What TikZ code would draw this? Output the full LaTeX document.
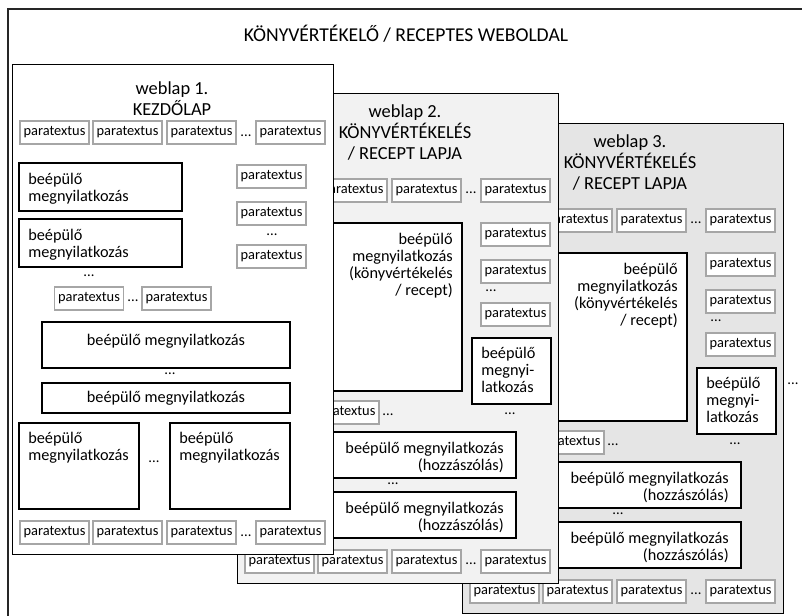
\documentclass[tikz,border=0pt]{standalone}
\usepackage{fontspec}
\setmainfont{Carlito}
\usepackage{tikz}
\newlength{\pxu}
\setlength{\pxu}{0.75pt}
\tikzstyle{para} = [draw=gray!70, line width=1.4pt, fill=white, minimum width=69\pxu, minimum height=23\pxu, inner sep=0pt, font=\fontsize{10.8}{12}\selectfont]
\tikzstyle{ubox} = [draw=black, line width=1.5pt, fill=white, inner sep=0pt]
\tikzstyle{utext} = [inner sep=0pt, font=\fontsize{12.2}{12.75}\selectfont]
\tikzstyle{ellip} = [inner sep=0pt, font=\fontsize{11}{12}\selectfont]
\tikzstyle{pagebox} = [draw=black, line width=1.1pt, minimum width=321\pxu, minimum height=490\pxu, anchor=north west, inner sep=0pt]
\tikzstyle{pagetitle} = [inner sep=0pt, align=center, font=\fontsize{13.8}{16}\selectfont]

% one book review / recipe page (#1 name, #2 fill, #3 number)
\newcommand{\reviewpage}[3]{%
  \node[pagebox, fill=#2] (#1) at (237,93) {};
  \node[pagetitle, anchor=north] (#1title) at (405,104) {weblap #3.\\KÖNYVÉRTÉKELÉS\\/ RECEPT LAPJA};
  % top row
  \node[para] (#1t1) at (352.5,190.5) {paratextus};
  \node[para] (#1t2) at (426.5,190.5) {paratextus};
  \node[ellip] (#1td) at (471,193) {...};
  \node[para] (#1t3) at (515.5,190.5) {paratextus};
  % main text
  \node[ubox, minimum width=162\pxu, minimum height=168\pxu] (#1main) at (381,307) {};
  \node[utext, align=right, anchor=north east] (#1maintext) at (453,233) {beépülő\\megnyilatkozás\\(könyvértékelés\\/ recept)};
  % right column
  \node[para] (#1r1) at (515.5,234.5) {paratextus};
  \node[para] (#1r2) at (515.5,271.5) {paratextus};
  \node[ellip] (#1rd) at (491,291) {...};
  \node[para] (#1r3) at (515.5,314.5) {paratextus};
  \node[ubox, minimum width=79\pxu, minimum height=66\pxu] (#1side) at (511.5,371) {};
  \node[utext, align=left, anchor=north west] (#1sidetext) at (481,347) {beépülő\\megnyi-\\latkozás};
  \node[ellip] (#1sided) at (510,414) {...};
  % comments
  \node[para] (#1m1) at (344.5,412.5) {paratextus};
  \node[ellip] (#1md) at (388,415) {...};
  \node[ubox, minimum width=216\pxu, minimum height=46\pxu] (#1c1) at (408,455) {};
  \node[utext, align=right, anchor=east] (#1c1text) at (504,457) {beépülő megnyilatkozás\\(hozzászólás)};
  \node[ellip] (#1cd) at (393,484) {...};
  \node[ubox, minimum width=216\pxu, minimum height=46\pxu] (#1c2) at (408,515) {};
  \node[utext, align=right, anchor=east] (#1c2text) at (504,517) {beépülő megnyilatkozás\\(hozzászólás)};
  % bottom row
  \node[para] (#1b1) at (279.5,561.5) {paratextus};
  \node[para] (#1b2) at (352.5,561.5) {paratextus};
  \node[para] (#1b3) at (426.5,561.5) {paratextus};
  \node[ellip] (#1bd) at (471,564) {...};
  \node[para] (#1b4) at (515.5,561.5) {paratextus};
}

\begin{document}
\begin{tikzpicture}[x=0.75pt, y=-0.75pt]
  \useasboundingbox (0,0) rectangle (802,615);
  % site frame
  \draw[black!85, line width=1.8pt] (8,9) rectangle (830,640);
  \node[inner sep=0pt, anchor=base, font=\fontsize{14.7}{17}\selectfont] (site) at (406,41) {KÖNYVÉRTÉKELŐ / RECEPTES WEBOLDAL};

  % pages 3 and 2
  \begin{scope}[shift={(225,30)}]
    \reviewpage{pc}{black!10}{3}
  \end{scope}
  \node[ellip] (pcmore) at (793,384) {...};
  \reviewpage{pb}{black!5}{2}

  % page 1
  \node[pagebox, fill=white] (pa) at (12,64) {};
  \node[pagetitle, anchor=north] (patitle) at (172,81) {weblap 1.\\KEZDŐLAP};
  \node[para] (pat1) at (54.5,132.5) {paratextus};
  \node[para] (pat2) at (127.5,132.5) {paratextus};
  \node[para] (pat3) at (201.5,132.5) {paratextus};
  \node[ellip] (patd) at (246,135.5) {...};
  \node[para] (pat4) at (290.5,132.5) {paratextus};

  \node[ubox, minimum width=163\pxu, minimum height=48\pxu] (paa) at (100.5,187) {};
  \node[utext, align=left, anchor=north west] (paatext) at (28,173) {beépülő\\megnyilatkozás};
  \node[ubox, minimum width=163\pxu, minimum height=48\pxu] (pab) at (100.5,243) {};
  \node[utext, align=left, anchor=north west] (pabtext) at (28,229) {beépülő\\megnyilatkozás};
  \node[ellip] (pabd) at (89,276) {...};

  \node[para] (par1) at (271.5,176.5) {paratextus};
  \node[para] (par2) at (271.5,213.5) {paratextus};
  \node[ellip] (pard) at (272,235) {...};
  \node[para] (par3) at (271.5,256.5) {paratextus};

  \node[para] (pam1) at (89,298.5) {paratextus};
  \node[ellip] (pamd) at (133,301) {...};
  \node[para] (pam2) at (176.5,298.5) {paratextus};

  \node[ubox, minimum width=248\pxu, minimum height=46\pxu] (pac) at (166,345) {};
  \node[utext] (pactext) at (166,341) {beépülő megnyilatkozás};
  \node[ellip] (pacd) at (170,374) {...};
  \node[ubox, utext, minimum width=248\pxu, minimum height=30\pxu] (pad) at (166,398) {beépülő megnyilatkozás};

  \node[ubox, minimum width=120\pxu, minimum height=86\pxu] (pae) at (79,466) {};
  \node[utext, align=left, anchor=north west] (paetext) at (28,432) {beépülő\\megnyilatkozás};
  \node[ellip] (paed) at (154,462) {...};
  \node[ubox, minimum width=120\pxu, minimum height=86\pxu] (paf) at (230,466) {};
  \node[utext, align=left, anchor=north west] (paftext) at (179,432) {beépülő\\megnyilatkozás};

  \node[para] (pab1) at (54.5,532.5) {paratextus};
  \node[para] (pab2) at (127.5,532.5) {paratextus};
  \node[para] (pab3) at (201.5,532.5) {paratextus};
  \node[ellip] (pabbd) at (246,535.5) {...};
  \node[para] (pab4) at (290.5,532.5) {paratextus};
\end{tikzpicture}
\end{document}
